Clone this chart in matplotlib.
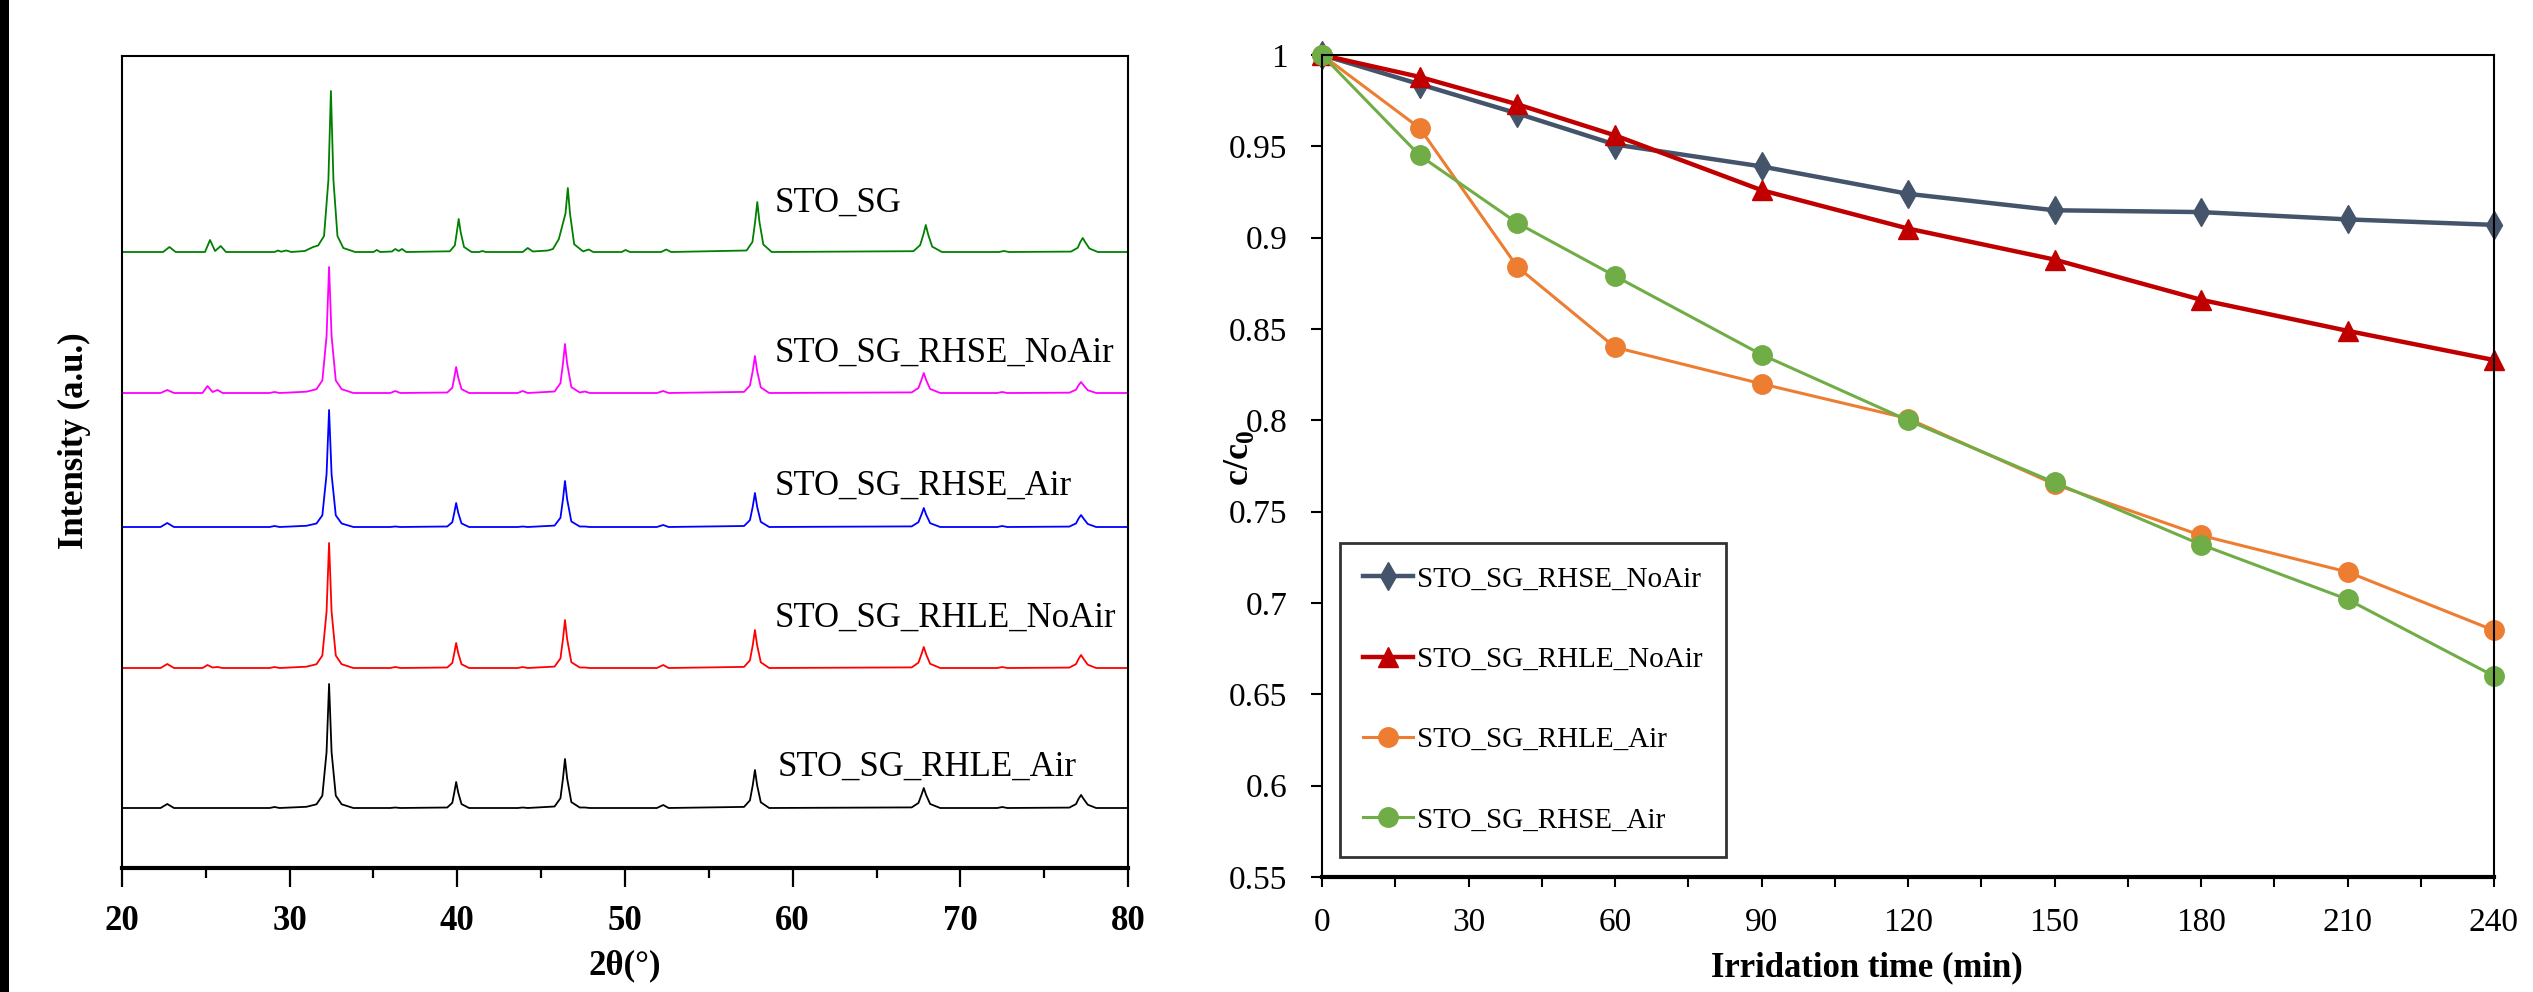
import matplotlib
matplotlib.use("Agg")
import matplotlib.pyplot as plt
from matplotlib.patches import Rectangle
from matplotlib.ticker import MultipleLocator

plt.rcParams['font.family'] = ['Liberation Serif', 'DejaVu Serif']

# ---- XRD patterns (left panel) ----
# shared 2theta grid for the four treated samples
two_theta = [
    20.0, 22.3, 22.7, 23.1,
    24.8, 25.1, 25.4, 25.7, 26.0,
    28.8, 29.1, 29.4,
    31.0, 31.6, 31.95, 32.2, 32.35, 32.5, 32.75, 33.1, 33.8,
    36.0, 36.3, 36.6,
    39.4, 39.7, 39.82, 39.93, 40.05, 40.25, 40.7,
    43.6, 43.9, 44.2,
    45.8, 46.15, 46.3, 46.42, 46.55, 46.8, 47.3, 47.6, 47.9,
    51.9, 52.28, 52.6,
    57.1, 57.45, 57.62, 57.75, 57.88, 58.1, 58.6,
    67.1, 67.5, 67.68, 67.82, 67.96, 68.2, 68.8,
    72.2, 72.5, 72.8,
    76.5, 76.9, 77.05, 77.2, 77.35, 77.6, 78.1,
    80.0]

rhse_noair_i = [
    0, 0, 3, 0,
    0, 7, 1, 3, 0,
    0, 1, 0,
    1.3, 3.8, 12.6, 56.7, 126, 56.7, 12.6, 3.8, 0,
    0, 2, 0,
    0.5, 5.2, 15.6, 26, 15.6, 3.9, 0,
    0, 2, 0,
    1.5, 9.8, 29.4, 49, 29.4, 5.9, 0.5, 1.5, 0,
    0, 2, 0,
    1.1, 7.4, 22.2, 37, 22.2, 5.6, 0,
    0.6, 5, 13, 20, 13, 4, 0,
    0, 1, 0,
    0.3, 3.3, 7.7, 11, 7.7, 2.8, 0,
    0]

rhse_air_i = [
    0, 0, 4, 0,
    0, 0, 0, 0, 0,
    0, 1, 0,
    1.2, 3.5, 11.7, 52.7, 117, 52.7, 11.7, 3.5, 0,
    0, 0.5, 0,
    0.5, 4.8, 14.4, 24, 14.4, 3.6, 0,
    0, 0.5, 0,
    1.4, 9.2, 27.6, 46, 27.6, 5.5, 0.5, 0.5, 0,
    0, 2, 0,
    1, 6.8, 20.4, 34, 20.4, 5.1, 0,
    0.6, 4.8, 12.4, 19, 12.4, 3.8, 0,
    0, 1, 0,
    0.4, 3.6, 8.4, 12, 8.4, 3, 0,
    0]

rhle_noair_i = [
    0, 0, 4, 0,
    0, 3, 0.5, 1, 0,
    0, 1, 0,
    1.3, 3.8, 12.5, 56.3, 125, 56.3, 12.5, 3.8, 0,
    0, 1, 0,
    0.5, 5, 15, 25, 15, 3.8, 0,
    0, 1, 0,
    1.4, 9.6, 28.8, 48, 28.8, 5.8, 0.5, 0.5, 0,
    0, 3, 0,
    1.1, 7.6, 22.8, 38, 22.8, 5.7, 0,
    0.6, 5.3, 13.7, 21, 13.7, 4.2, 0,
    0, 1, 0,
    0.4, 3.9, 9.1, 13, 9.1, 3.3, 0,
    0]

rhle_air_i = [
    0, 0, 4, 0,
    0, 0, 0, 0, 0,
    0, 1, 0,
    1.2, 3.7, 12.4, 55.8, 124, 55.8, 12.4, 3.7, 0,
    0, 0.5, 0,
    0.5, 5.2, 15.6, 26, 15.6, 3.9, 0,
    0, 0.5, 0,
    1.5, 9.8, 29.4, 49, 29.4, 5.9, 0.5, 0.5, 0,
    0, 3, 0,
    1.1, 7.6, 22.8, 38, 22.8, 5.7, 0,
    0.6, 5, 13, 20, 13, 4, 0,
    0, 1, 0,
    0.4, 3.9, 9.1, 13, 9.1, 3.3, 0,
    0]

# as-synthesised STO_SG, slightly shifted peaks and extra impurity lines
sg_two_theta = [
    20.0, 22.45, 22.83, 23.2,
    24.95, 25.25, 25.55, 25.89, 26.2,
    29.1, 29.3, 29.5, 29.8, 30.1,
    30.9, 31.4, 31.7, 32.05, 32.31, 32.46, 32.61, 32.85, 33.2, 33.9,
    35.0, 35.2, 35.4, 36.1, 36.3, 36.5, 36.7, 36.95,
    39.55, 39.85, 39.97, 40.08, 40.2, 40.4, 40.85,
    41.3, 41.5, 41.7,
    43.9, 44.2, 44.5,
    45.4, 45.7, 46.05, 46.45, 46.59, 46.72, 46.97, 47.5, 47.84, 48.1,
    49.8, 50.03, 50.3,
    52.15, 52.46, 52.75,
    57.25, 57.6, 57.76, 57.89, 58.02, 58.25, 58.75,
    67.2, 67.6, 67.8, 67.94, 68.08, 68.32, 68.9,
    72.3, 72.6, 72.9,
    76.6, 77.0, 77.15, 77.3, 77.45, 77.7, 78.2,
    80.0]

sg_i = [
    0, 0, 5, 0,
    0, 12, 1, 6, 0,
    0, 1.5, 0.3, 1.5, 0,
    1, 5, 6.5, 16, 72, 161, 72, 16, 4, 0,
    0, 2, 0, 0.5, 3, 1, 3, 0,
    0.7, 6.6, 19.8, 33, 19.8, 5, 0,
    0, 1, 0,
    0, 4, 0.5,
    1.5, 3, 12.8, 38.4, 64, 38.4, 7.7, 0.6, 2.5, 0,
    0, 2, 0,
    0, 2.5, 0,
    1.5, 10, 30, 50, 30, 7.5, 0,
    0.8, 6.8, 17.6, 27, 17.6, 5.4, 0,
    0, 1, 0,
    0.4, 4.2, 9.8, 14, 9.8, 3.5, 0,
    0]

xrd_names = ["STO_SG", "STO_SG_RHSE_NoAir", "STO_SG_RHSE_Air",
             "STO_SG_RHLE_NoAir", "STO_SG_RHLE_Air"]
xrd_offsets = [616, 475, 341, 200, 60]
xrd_colors = ["#008000", "#ff00ff", "#0000ff", "#ff0000", "#000000"]
label_pos = [(58.9, 665), (58.9, 515), (58.9, 382), (58.9, 250), (59.1, 101)]

# ---- photocatalytic degradation (right panel) ----
time_min = [0, 20, 40, 60, 90, 120, 150, 180, 210, 240]
c_rhse_noair = [1.0, 0.984, 0.968, 0.951, 0.939, 0.924, 0.915, 0.914, 0.910, 0.907]
c_rhle_noair = [1.0, 0.988, 0.973, 0.956, 0.926, 0.905, 0.888, 0.866, 0.849, 0.833]
c_rhle_air = [1.0, 0.960, 0.884, 0.840, 0.820, 0.801, 0.765, 0.737, 0.717, 0.685]
c_rhse_air = [1.0, 0.945, 0.908, 0.879, 0.836, 0.800, 0.766, 0.732, 0.702, 0.660]

fig = plt.figure(figsize=(25.33, 9.92), dpi=100)
W, H = 2533, 992

# black strip at the left edge of the original figure
fig.patches.append(Rectangle((0, 0), 9 / W, 1, transform=fig.transFigure,
                             facecolor="black", edgecolor="none"))

# left panel
ax1 = fig.add_axes([122 / W, 1 - 868 / H, (1128 - 122) / W, (868 - 56) / H])
patterns = [(sg_two_theta, sg_i), (two_theta, rhse_noair_i), (two_theta, rhse_air_i),
            (two_theta, rhle_noair_i), (two_theta, rhle_air_i)]
for (tt, inten), off, col, name, (lx, ly) in zip(patterns, xrd_offsets, xrd_colors,
                                                  xrd_names, label_pos):
    ax1.plot(tt, [v + off for v in inten], color=col, lw=1.3)
    ax1.text(lx, ly, name, fontsize=25, va="center", ha="left")

ax1.set_xlim(20, 80)
ax1.set_ylim(0, 812)
ax1.set_yticks([])
ax1.xaxis.set_major_locator(MultipleLocator(10))
ax1.xaxis.set_minor_locator(MultipleLocator(5))
ax1.tick_params(axis="x", which="major", direction="out", length=14, width=1.6,
                labelsize=25, pad=13)
ax1.tick_params(axis="x", which="minor", direction="out", length=7, width=1.6)
for lab in ax1.get_xticklabels():
    lab.set_fontweight("bold")
for s in ["left", "top", "right"]:
    ax1.spines[s].set_linewidth(1.5)
ax1.spines["bottom"].set_linewidth(3)
ax1.set_xlabel("2θ(°)", fontsize=25, fontweight="bold")
ax1.xaxis.set_label_coords(0.5, -0.1)
ax1.set_ylabel("Intensity (a.u.)", fontsize=25, fontweight="bold")
ax1.yaxis.set_label_coords(-0.031, 0.526)

# right panel
ax2 = fig.add_axes([1322 / W, 1 - 877 / H, (2494 - 1322) / W, (877 - 55) / H])
ax2.plot(time_min, c_rhse_noair, color="#44546A", lw=3.2, marker="d", ms=14,
         label="STO_SG_RHSE_NoAir", clip_on=False)
ax2.plot(time_min, c_rhle_noair, color="#C00000", lw=3.2, marker="^", ms=14,
         label="STO_SG_RHLE_NoAir", clip_on=False)
ax2.plot(time_min, c_rhle_air, color="#ED7D31", lw=2.2, marker="o", ms=14,
         label="STO_SG_RHLE_Air", clip_on=False)
ax2.plot(time_min, c_rhse_air, color="#70AD47", lw=2.2, marker="o", ms=14,
         label="STO_SG_RHSE_Air", clip_on=False)

ax2.set_xlim(0, 240)
ax2.set_ylim(0.55, 1.0)
ax2.xaxis.set_major_locator(MultipleLocator(30))
ax2.xaxis.set_minor_locator(MultipleLocator(15))
ax2.set_yticks([0.55, 0.6, 0.65, 0.7, 0.75, 0.8, 0.85, 0.9, 0.95, 1.0])
ax2.set_yticklabels(["0.55", "0.6", "0.65", "0.7", "0.75", "0.8", "0.85",
                     "0.9", "0.95", "1"])
ax2.tick_params(axis="x", which="both", direction="out", length=7, width=1.5,
                labelsize=24, pad=15)
ax2.tick_params(axis="y", which="major", direction="out", length=8, width=1.5,
                labelsize=24, pad=17)
for s in ["left", "top", "right"]:
    ax2.spines[s].set_linewidth(1.5)
ax2.spines["bottom"].set_linewidth(3)
ax2.set_xlabel("Irridation time (min)", fontsize=25, fontweight="bold")
ax2.xaxis.set_label_coords(0.465, -0.09)
ax2.set_ylabel("c/c$_\\mathregular{0}$", fontsize=26, fontweight="bold")
ax2.yaxis.set_label_coords(-0.056, 0.51)

leg = ax2.legend(loc="lower left", bbox_to_anchor=(0.0154, 0.0243), fontsize=21,
                 frameon=True, fancybox=False, edgecolor="black", handlelength=1.7,
                 handletextpad=0.15, borderpad=0.8, labelspacing=1.85,
                 borderaxespad=0)
leg.get_frame().set_linewidth(2)

fig.savefig("out.png", dpi=100)
